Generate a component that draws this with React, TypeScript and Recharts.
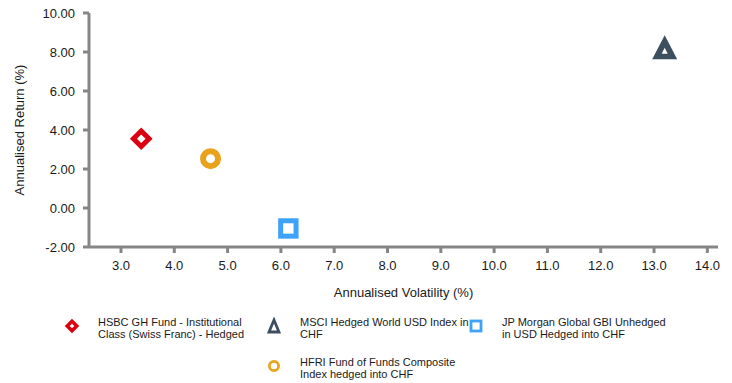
import React from 'react';
import { ScatterChart, Scatter, XAxis, YAxis } from 'recharts';

// risk / return points, one per fund or index
const seriesNames = [
  'HSBC GH Fund - Institutional\nClass (Swiss Franc) - Hedged',
  'MSCI Hedged World USD Index in\nCHF',
  'JP Morgan Global GBI Unhedged\nin USD Hedged into CHF',
  'HFRI Fund of Funds Composite\nIndex hedged into CHF',
];
const volatility = [3.38, 13.2, 6.14, 4.68];
const annualReturn = [3.55, 8.25, -1.05, 2.53];
const seriesColors = ['#db0011', '#3d4f5f', '#3ea2fb', '#e9a21b'];
const markerKinds = ['diamond', 'triangle', 'square', 'circle'];

const xTicks = [3, 4, 5, 6, 7, 8, 9, 10, 11, 12, 13, 14];
const yTicks = [-2, 0, 2, 4, 6, 8, 10];

const FONT = '"Liberation Sans", Arial, sans-serif';
const AXIS = '#868686';
const INK = '#1a1a1a';

function Marker({ kind, cx, cy, color, small }: { kind: string; cx: number; cy: number; color: string; small?: boolean }) {
  if (kind === 'diamond') {
    const r = small ? 4.8 : 7.8;
    const pts = `${cx},${cy - r} ${cx + r},${cy} ${cx},${cy + r} ${cx - r},${cy}`;
    return <polygon points={pts} fill="#fff" stroke={color} strokeWidth={small ? 3.5 : 5} strokeLinejoin="miter" />;
  }
  if (kind === 'square') {
    const r = small ? 5 : 7.7;
    return <rect x={cx - r} y={cy - r} width={2 * r} height={2 * r} fill="#fff" stroke={color} strokeWidth={small ? 2.8 : 5} />;
  }
  if (kind === 'circle') {
    const r = small ? 4.6 : 7.5;
    return <circle cx={cx} cy={cy} r={r} fill="#fff" stroke={color} strokeWidth={small ? 2.8 : 6} />;
  }
  // triangle
  if (small) {
    const pts = `${cx},${cy - 6} ${cx + 5},${cy + 6} ${cx - 5},${cy + 6}`;
    return <polygon points={pts} fill="#fff" stroke={color} strokeWidth={2.8} strokeLinejoin="miter" />;
  }
  const w = 12.5, h = 24;
  const outer = `${cx},${cy - h / 2} ${cx + w},${cy + h / 2} ${cx - w},${cy + h / 2}`;
  const gy = cy + h / 2 - h / 3;
  const inner = `${cx},${gy - 3.5} ${cx + 3},${gy + 2.5} ${cx - 3},${gy + 2.5}`;
  return (
    <g>
      <polygon points={outer} fill={color} />
      <polygon points={inner} fill="#fff" />
    </g>
  );
}

// legend slots: the fourth entry sits under the second one
const legendSlots = [
  { col: 0, row: 0 },
  { col: 1, row: 0 },
  { col: 2, row: 0 },
  { col: 1, row: 1 },
];

export default function App() {
  return (
    <div style={{ position: 'absolute', left: 0, top: 0, width: 732, height: 383, background: '#fff', fontFamily: FONT }}>
      <ScatterChart width={732} height={300} margin={{ top: 13, right: 14, bottom: 13, left: 0 }}>
        <XAxis
          type="number"
          dataKey="x"
          domain={[2.4, 14.2]}
          ticks={xTicks}
          tickFormatter={(v: number) => v.toFixed(1)}
          height={40}
          tickSize={6}
          tickMargin={8}
          axisLine={{ stroke: AXIS, strokeWidth: 3 }}
          tickLine={{ stroke: AXIS, strokeWidth: 3 }}
          tick={{ fill: INK, fontSize: 13, fontFamily: FONT }}
          label={{ value: 'Annualised Volatility (%)', position: 'bottom', offset: 1, fill: INK, fontSize: 13, fontFamily: FONT }}
        />
        <YAxis
          type="number"
          dataKey="y"
          domain={[-2, 10]}
          ticks={yTicks}
          tickFormatter={(v: number) => v.toFixed(2)}
          width={89}
          tickSize={6}
          tickMargin={8}
          axisLine={{ stroke: AXIS, strokeWidth: 3 }}
          tickLine={{ stroke: AXIS, strokeWidth: 3 }}
          tick={{ fill: INK, fontSize: 13, fontFamily: FONT }}
          label={{ value: 'Annualised Return (%)', angle: -90, position: 'insideLeft', offset: 19, fill: INK, fontSize: 13, fontFamily: FONT, style: { textAnchor: 'middle' } }}
        />
        {seriesNames.map((name, i) => (
          <Scatter
            key={name}
            name={name}
            data={[{ x: volatility[i], y: annualReturn[i] }]}
            isAnimationActive={false}
            shape={(p: any) => <Marker kind={markerKinds[i]} cx={p.cx} cy={p.cy} color={seriesColors[i]} />}
          />
        ))}
      </ScatterChart>

      {/* legend */}
      {seriesNames.map((name, i) => {
        const slot = legendSlots[i];
        const left = 63 + slot.col * 202;
        const top = 317 + slot.row * 40;
        return (
          <div key={name} style={{ position: 'absolute', left, top, display: 'flex' }}>
            <svg width={18} height={18}>
              <Marker kind={markerKinds[i]} cx={9} cy={9} color={seriesColors[i]} small />
            </svg>
            <div style={{ marginLeft: 17, fontSize: 11, lineHeight: '11.5px', color: INK, whiteSpace: 'pre-line' }}>
              {name}
            </div>
          </div>
        );
      })}
    </div>
  );
}
